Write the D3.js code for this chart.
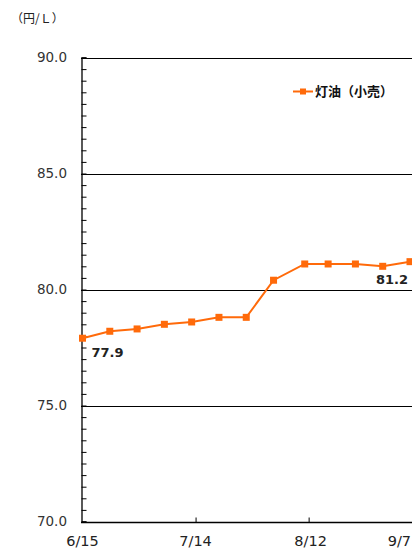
<!DOCTYPE html>
<html><head><meta charset="utf-8">
<script src="https://cdn.jsdelivr.net/npm/d3@7"></script>
<style>html,body{margin:0;padding:0;background:#fff;}svg{display:block;}</style>
</head><body>
<script>
const dates = ["2020-06-15","2020-06-22","2020-06-29","2020-07-06","2020-07-13","2020-07-20","2020-07-27","2020-08-03","2020-08-11","2020-08-17","2020-08-24","2020-08-31","2020-09-07"];
const values = [77.9,78.2,78.3,78.5,78.6,78.8,78.8,80.4,81.1,81.1,81.1,81.0,81.2];
const xTickDates = ["2020-06-15","2020-07-14","2020-08-12","2020-09-07"];
const xTickLabels = ["6/15","7/14","8/12","9/7"];
const yTicks = [70,75,80,85,90];
const seriesName = "灯油（小売）";
const unitLabel = "（円/Ｌ）";

const W = 412, H = 549;
const m = {left:81, top:57, bottom:28};
const parse = d3.utcParse("%Y-%m-%d");
const svg = d3.select("body").append("svg").attr("width",W).attr("height",H);
const font = "'DejaVu Sans', sans-serif";

const x = d3.scaleUtc().domain([parse("2020-06-15"), parse("2020-09-07")]).range([82.5, 410]);
const y = d3.scaleLinear().domain([70,90]).range([521.5, 57.5]);

// gridlines
svg.append("g").selectAll("line").data(yTicks.filter(v=>v>70)).join("line")
  .attr("x1", m.left).attr("x2", W).attr("y1", d=>Math.round(y(d))+0.5).attr("y2", d=>Math.round(y(d))+0.5)
  .attr("stroke","#000").attr("stroke-width",1);

// y axis with minor ticks inward
const minor = d3.range(70, 90.01, 0.5);
const yAxis = d3.axisRight(y).tickValues(minor).tickSize(5).tickFormat("");
const gy = svg.append("g").attr("transform",`translate(${m.left+0.5},0)`).call(yAxis);
gy.select(".domain").attr("stroke","#000").attr("stroke-width",1.3);
gy.selectAll(".tick line").attr("stroke","#000");

svg.append("g").selectAll("text").data(yTicks).join("text")
  .attr("x", 67).attr("y", d=>y(d)).attr("dy","0.35em").attr("text-anchor","end")
  .attr("font-family",font).attr("font-size",13.5).attr("fill","#333").text(d=>d.toFixed(1));

// x axis
const xAxis = d3.axisTop(x).tickValues(xTickDates.slice(1,3).map(parse)).tickSize(5).tickFormat("");
const gx = svg.append("g").attr("transform",`translate(0,${Math.round(y(70))+0.5})`).call(xAxis);
gx.select(".domain").attr("stroke","#000").attr("stroke-width",1.3).attr("d",`M${m.left},0H${W}`);
gx.selectAll(".tick line").attr("stroke","#000");

svg.append("g").selectAll("text").data(xTickDates).join("text")
  .attr("x",(d,i)=> i===3 ? W-1 : x(parse(d)) + (i===2? 2:0)).attr("y",546)
  .attr("text-anchor",(d,i)=> i===3 ? "end" : "middle").attr("font-family",font).attr("font-size",14.5).attr("fill","#222")
  .text((d,i)=>xTickLabels[i]);

// unit label
svg.append("text").attr("x",11).attr("y",23).attr("font-family","'Noto Sans CJK JP', sans-serif")
  .attr("font-size",12).attr("fill","#222").text(unitLabel);

// line
const color = "#FF6A0A";
const pts = dates.map((d,i)=>({d:parse(d), v:values[i]}));
svg.append("path").datum(pts).attr("fill","none").attr("stroke",color).attr("stroke-width",2)
  .attr("d", d3.line().x(p=>x(p.d)).y(p=>y(p.v)));
svg.append("g").selectAll("rect").data(pts).join("rect")
  .attr("x",p=>x(p.d)-3.5).attr("y",p=>y(p.v)-3.5).attr("width",7).attr("height",7).attr("fill",color);

// data labels
svg.append("text").attr("x",x(pts[0].d)+9).attr("y",y(pts[0].v)+19)
  .attr("font-family",font).attr("font-weight","bold").attr("font-size",13).attr("fill","#222").text(values[0].toFixed(1));
svg.append("text").attr("x",x(pts[12].d)-2).attr("y",y(pts[12].v)+22).attr("text-anchor","end")
  .attr("font-family",font).attr("font-weight","bold").attr("font-size",13).attr("fill","#222").text(values[12].toFixed(1));

// legend
const ly = 91.5;
svg.append("line").attr("x1",293).attr("x2",313).attr("y1",ly).attr("y2",ly).attr("stroke",color).attr("stroke-width",2);
svg.append("rect").attr("x",300).attr("y",ly-3).attr("width",6).attr("height",6).attr("fill",color);
svg.append("text").attr("x",315).attr("y",ly).attr("dy","0.36em").attr("font-family","'Noto Sans CJK JP', sans-serif")
  .attr("font-weight","bold").attr("font-size",13).attr("fill","#111").text(seriesName);
</script>
</body></html>
